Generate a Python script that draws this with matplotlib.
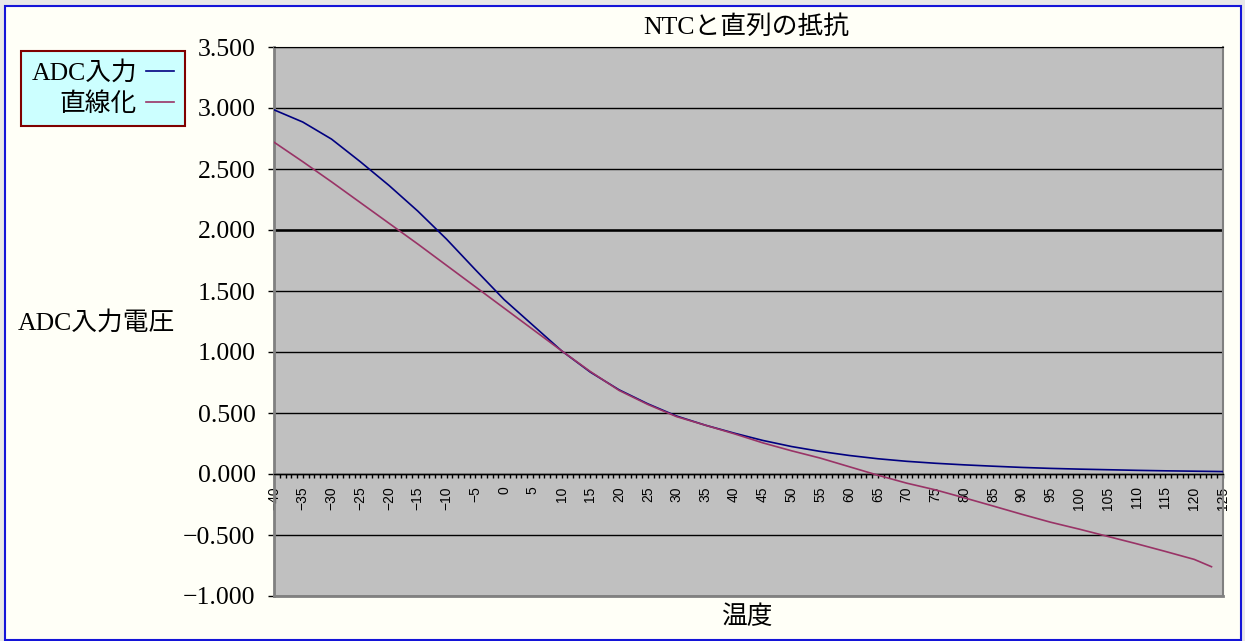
import matplotlib
matplotlib.use("Agg")
import matplotlib.pyplot as plt
from matplotlib.patches import Rectangle
from matplotlib.ticker import FuncFormatter, MultipleLocator
import numpy as np

temps = [-40, -35, -30, -25, -20, -15, -10, -5, 0, 5, 10, 15, 20, 25, 30, 35, 40,
         45, 50, 55, 60, 65, 70, 75, 80, 85, 90, 95, 100, 105, 110, 115, 120, 125]
adc_in = [2.985, 2.885, 2.745, 2.56, 2.365, 2.155, 1.925, 1.675, 1.43, 1.22, 1.01,
          0.835, 0.69, 0.575, 0.475, 0.40, 0.335, 0.275, 0.225, 0.185, 0.152, 0.125,
          0.104, 0.088, 0.075, 0.064, 0.054, 0.046, 0.040, 0.035, 0.030, 0.026,
          0.023, 0.020]

lin_temps = [-40, -35, -30, -25, -20, -15, -10, -5, 0, 5, 10, 15, 20, 25, 30, 35, 40,
             45, 50, 55, 60, 65, 70, 75, 80, 85, 90, 95, 100, 105, 110, 115, 120, 123]
linear = [2.72, 2.56, 2.395, 2.225, 2.055, 1.885, 1.71, 1.535, 1.36, 1.185, 1.01,
          0.84, 0.685, 0.57, 0.47, 0.40, 0.33, 0.255, 0.19, 0.13, 0.06, -0.01,
          -0.075, -0.13, -0.195, -0.262, -0.33, -0.395, -0.452, -0.512, -0.572,
          -0.635, -0.70, -0.76]

series_names = ['ADC入力', '直線化']
title = 'NTCと直列の抵抗'
ylabel = 'ADC入力電圧'
xlabel = '温度'

W, H = 1245, 641
SERIF = ['Liberation Serif', 'Noto Sans CJK JP']
FS = 18.5

fig = plt.figure(figsize=(W / 100, H / 100), dpi=100)
fig.patch.set_facecolor('#E8E8E8')
fig.patches.append(Rectangle((5 / W, 1 / H), (1241 - 5) / W, (H - 7) / H,
                             transform=fig.transFigure, facecolor='#FFFFF7',
                             edgecolor='#1414D8', lw=1.5, zorder=-5))

L, R, T, B = 274, 1223, 47, 596
ax = fig.add_axes([L / W, 1 - B / H, (R - L) / W, (B - T) / H])
ax.set_facecolor('#C0C0C0')

ax.plot(temps, adc_in, color='#000080', lw=1.2, zorder=3, label=series_names[0])
ax.plot(lin_temps, linear, color='#993366', lw=1.2, zorder=3, label=series_names[1])

ax.set_xlim(-40, 125)
ax.set_ylim(-1, 3.5)
ax.set_yticks(np.arange(-1, 3.51, 0.5))
ax.yaxis.set_major_formatter(FuncFormatter(lambda v, p: f'{v:.3f}'.replace('-', '\u2212')))
ax.grid(axis='y', color='black', lw=1)
ax.axhline(2.0, color='black', lw=1.8, zorder=1.6)

ax.spines['bottom'].set_position(('data', 0))
ax.spines['bottom'].set_color('black')
ax.spines['bottom'].set_linewidth(1)
ax.spines['left'].set_color('#808080')
ax.spines['left'].set_linewidth(2)
ax.spines['right'].set_color('#808080')
ax.spines['right'].set_linewidth(1.5)
ax.spines['top'].set_color('black')
ax.axhline(-1, color='#808080', lw=2, clip_on=False, zorder=2.6)

ax.xaxis.set_major_locator(MultipleLocator(5))
ax.xaxis.set_minor_locator(MultipleLocator(1))
ax.tick_params(axis='x', which='both', direction='out', length=3, width=1, color='black',
               top=False, bottom=True)
ax.tick_params(axis='x', which='major', pad=6, labelsize=10, labelrotation=90,
               labelfontfamily='Liberation Sans')
ax.tick_params(axis='y', direction='out', length=4.3, width=1, color='black', pad=9,
               labelsize=FS, labelfontfamily=SERIF, right=False)

fig.text(18 / W, 1 - 323 / H, ylabel, ha='left', va='center', fontsize=FS, family=SERIF)
fig.text(746 / W, 1 - 27 / H, title, ha='center', va='center', fontsize=FS, family=SERIF)
fig.text(748 / W, 1 - 617 / H, xlabel, ha='center', va='center', fontsize=FS, family=SERIF)

leg = fig.legend(loc='upper left', bbox_to_anchor=(21 / W, 1 - 51 / H),
                 bbox_transform=fig.transFigure, markerfirst=False, fancybox=False,
                 prop={'family': SERIF, 'size': FS}, borderaxespad=0, borderpad=0.4,
                 labelspacing=0.28, handlelength=1.1, handletextpad=0.35,
                 facecolor='#CCFFFF', edgecolor='#800000', framealpha=1)
leg.get_frame().set_linewidth(1.5)

fig.savefig('out.png', dpi=100)
